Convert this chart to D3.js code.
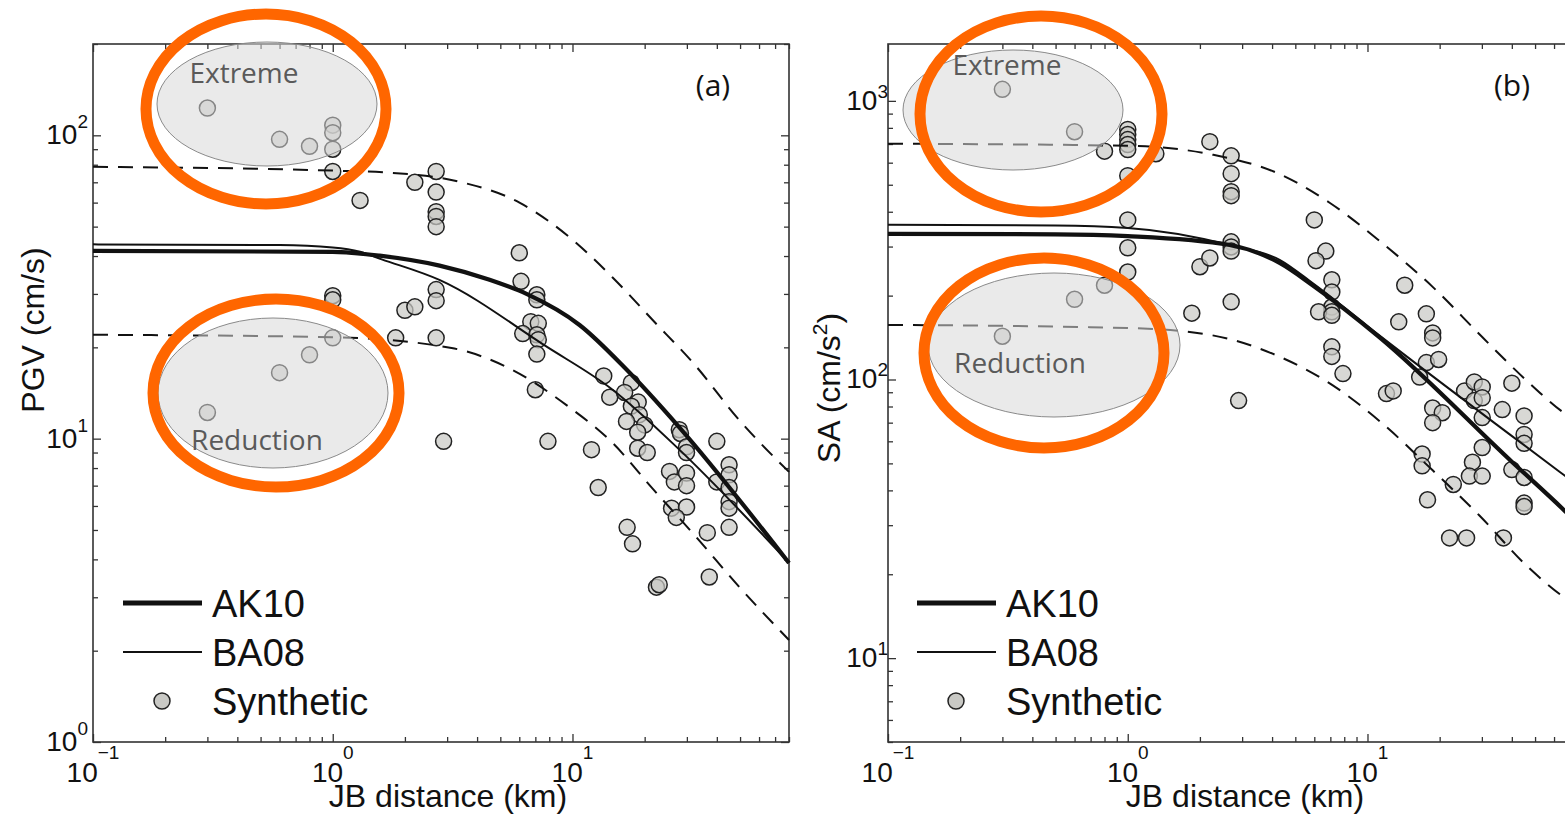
<!DOCTYPE html>
<html>
<head>
<meta charset="utf-8">
<script src="https://cdn.jsdelivr.net/npm/d3@7"></script>
<style>
  body { margin: 0; background: #fff; overflow: hidden; }
  svg { display: block; }
</style>
</head>
<body>
<div id="chart"></div>
<script>
// ---- data ----
const distRange = [0.1, 80];
const distMajor = [0.1, 1, 10];
const distMajorExp = ['\u22121', '0', '1'];

// panel (a) PGV
const pgvRange = [1, 200];
const pgvMajor = [1, 10, 100];
const pgvMajorExp = ['0', '1', '2'];
const pgvAk10 = [[0.1, 41.6], [1, 41.3], [1.57, 40.1], [2.79, 37.2], [4.51, 33.4], [6.43, 30.0], [10.7, 23.7], [16.8, 16.9], [27.9, 10.9], [80, 3.89]];
const pgvBa08 = [[0.1, 43.7], [0.6, 43.5], [1, 42.7], [1.3, 41.3], [1.6, 39], [2.8, 33.3], [7.8, 20.1], [14.7, 14.5], [27.9, 9.2], [80, 3.9]];
const pgvUpper = [[0.1, 78.7], [1, 76.5], [1.62, 75.5], [3.38, 70.3], [6.01, 60], [9.44, 47], [14.7, 34], [21.5, 24.7], [32.8, 17.3], [48.3, 11.8], [80, 7.77]];
const pgvLower = [[0.1, 22], [1, 21.6], [3.13, 19.9], [5.57, 16.9], [9.44, 12.9], [14.7, 9.68], [21.5, 6.87], [32.8, 4.74], [49.7, 3.24], [80, 2.17]];
const pgvSynthetic = [
  [0.3, 123], [0.6, 97], [0.8, 92], [1, 108], [1, 102], [1, 90], [1, 76], [1.3, 61],
  [2.2, 70], [2.7, 76], [2.7, 65], [2.7, 56], [2.7, 54], [2.7, 50], [6.0, 41], [6.1, 33],
  [2.7, 31], [2.7, 28.5], [2.0, 26.5], [2.2, 27.2], [1.83, 21.5], [2.7, 21.5], [2.9, 9.8],
  [7.1, 29.8], [7.1, 28.7], [6.7, 24.3], [7.2, 24], [6.2, 22.2], [7.1, 22], [7.2, 21.2], [7.1, 19],
  [7.0, 14.5], [7.9, 9.8], [13.5, 16.1], [14.3, 13.7], [17.6, 15.3], [16.5, 14.2], [18.8, 13.2],
  [17.6, 12.8], [19, 12], [16.8, 11.4], [20, 11.1], [18.7, 10.5], [18.7, 9.3], [20.5, 9.0],
  [12, 9.2], [12.8, 6.9], [27.9, 10.7], [28.2, 10.4], [29.9, 9.4], [29.9, 9.0], [40, 9.8],
  [25.4, 7.8], [26.6, 7.2], [29.9, 7.7], [29.9, 7.0], [25.9, 5.9], [29.9, 5.95], [27.1, 5.5],
  [40, 7.2], [45, 8.2], [45, 7.6], [45, 6.9], [45, 6.2], [45, 5.9], [45, 5.1], [36.5, 4.9],
  [16.9, 5.1], [17.8, 4.5], [37.2, 3.5], [22.4, 3.24], [23, 3.3],
  [1, 29.6], [1, 28.7], [1, 21.5], [0.8, 18.9], [0.6, 16.5], [0.3, 12.2]
];

// panel (b) SA
const saRange = [5, 1600];
const saMajor = [10, 100, 1000];
const saMajorExp = ['1', '2', '3'];
const saAk10 = [[0.1, 333], [0.5, 332], [1, 327], [2.66, 304], [4.3, 262], [5.9, 218], [11.2, 142], [40.2, 50.5], [66.2, 33.9], [80, 28.9]];
const saBa08 = [[0.1, 359], [0.5, 357], [1, 350], [2.66, 304], [4.3, 269], [5.9, 222], [11.2, 144], [40.2, 62.5], [66.2, 45.3], [80, 40.1]];
const saUpper = [[0.1, 702], [1, 690], [2.26, 641], [4.18, 552], [6.95, 431], [11.5, 309], [18.7, 215], [30.1, 142], [46, 99.3], [66.2, 75.7], [80, 68]];
const saLower = [[0.1, 157], [1, 153], [2.26, 144], [4.18, 122], [7.14, 95.5], [11.5, 69.7], [18.7, 47.2], [29.3, 32.5], [46, 21.5], [66.2, 16.5], [80, 14.8]];
const saSynthetic = [
  [0.3, 1100], [0.6, 775], [0.8, 660], [1, 790], [1, 757], [1, 726], [1, 697], [1, 669],
  [1, 539], [1, 374], [1, 297], [1, 243], [1.31, 646], [0.8, 218], [2.0, 254], [0.6, 194],
  [0.3, 143], [1.85, 173], [2.2, 714], [2.7, 635], [2.7, 548], [2.7, 472], [2.7, 457],
  [6.0, 374], [6.7, 289], [6.1, 267], [2.7, 312], [2.7, 299], [2.7, 289], [2.2, 273],
  [7.1, 228], [14.3, 218], [7.1, 206], [7.1, 182], [7.1, 175], [6.25, 175], [7.1, 170],
  [2.7, 190], [7.1, 131], [7.1, 121], [7.9, 105], [2.9, 84], [13.5, 161], [17.6, 172],
  [18.7, 147], [18.7, 141], [17.6, 115], [19.8, 118], [16.5, 102], [12, 89], [12.8, 91],
  [18.7, 79], [20.5, 76], [18.7, 70], [16.9, 54], [16.9, 49], [17.8, 37], [22.8, 42],
  [25.4, 91], [27.9, 98], [30.1, 94], [27.9, 84], [30.1, 86], [30.1, 73], [36.5, 78],
  [40, 97], [45, 74], [45, 63.5], [45, 59], [30.1, 57], [27.4, 50.5], [26.6, 45], [30.1, 45],
  [40, 47.5], [45, 44.5], [45, 36], [45, 35], [22, 27], [25.9, 27], [36.9, 27]
];

const legendNames = ['AK10', 'BA08', 'Synthetic'];

// ---- layout ----
const W = 1565, H = 816;
const sansFont = '"Liberation Sans", Arial, Helvetica, sans-serif';
const noteFont = '"Open Sans", "Noto Sans", sans-serif';

const panels = [
  {
    left: 93, top: 44, width: 696, height: 698,
    yRange: pgvRange, yMajor: pgvMajor, yExp: pgvMajorExp,
    ak10: pgvAk10, ba08: pgvBa08, upper: pgvUpper, lower: pgvLower, pts: pgvSynthetic,
    tag: '(a)', tagX: 713, tagY: 96,
    yTitle: 'PGV (cm/s)', yTitleX: 44, yTitleY: 330, ySup: null,
    xTitleX: 448, yLabelEnd: -5, supDy: -16,
    grey: [{cx: 267, cy: 104, rx: 110, ry: 62}, {cx: 273, cy: 393, rx: 115, ry: 75}],
    orange: [{cx: 266, cy: 109, rx: 120, ry: 95}, {cx: 276, cy: 393, rx: 123, ry: 94}],
    notes: [{t: 'Extreme', x: 244, y: 83}, {t: 'Reduction', x: 257, y: 450}],
    legX: 123
  },
  {
    left: 888, top: 44, width: 696, height: 698,
    yRange: saRange, yMajor: saMajor, yExp: saMajorExp,
    ak10: saAk10, ba08: saBa08, upper: saUpper, lower: saLower, pts: saSynthetic,
    tag: '(b)', tagX: 1512, tagY: 96,
    yTitle: 'SA (cm/s', yTitleX: 840, yTitleY: 388, ySup: '2',
    xTitleX: 1245, yLabelEnd: 0, supDy: -12,
    grey: [{cx: 1013, cy: 110, rx: 110, ry: 60}, {cx: 1054, cy: 345, rx: 126, ry: 72}],
    orange: [{cx: 1041, cy: 114, rx: 121, ry: 98}, {cx: 1044, cy: 353, rx: 120, ry: 95}],
    notes: [{t: 'Extreme', x: 1007, y: 75}, {t: 'Reduction', x: 1020, y: 373}],
    legX: 917
  }
];

const svg = d3.select('#chart').append('svg')
  .attr('width', W)
  .attr('height', H);

function drawPanel(p) {
  const x = d3.scaleLog().domain(distRange).range([p.left, p.left + p.width]);
  const y = d3.scaleLog().domain(p.yRange).range([p.top + p.height, p.top]);
  const bottom = p.top + p.height, right = p.left + p.width;

  const isMajor = v => Math.abs(Math.log10(v) - Math.round(Math.log10(v))) < 1e-9;
  const xMinor = x.ticks().filter(v => !isMajor(v));
  const yMinor = y.ticks().filter(v => !isMajor(v));

  // ticks on all four sides, pointing inward
  const axes = svg.append('g').attr('class', 'axes');
  function tickSet(axisFn, scale, vals, size, tr) {
    const g = axes.append('g').attr('transform', tr)
      .call(axisFn(scale).tickValues(vals).tickSize(size).tickFormat(''));
    g.select('.domain').remove();
    g.selectAll('line').attr('stroke', '#333').attr('stroke-width', 1.3);
  }
  tickSet(d3.axisBottom, x, xMinor, -5, `translate(0,${bottom})`);
  tickSet(d3.axisBottom, x, distMajor, -8, `translate(0,${bottom})`);
  tickSet(d3.axisTop, x, xMinor, -5, `translate(0,${p.top})`);
  tickSet(d3.axisTop, x, distMajor, -8, `translate(0,${p.top})`);
  tickSet(d3.axisLeft, y, yMinor, -5, `translate(${p.left},0)`);
  tickSet(d3.axisLeft, y, p.yMajor, -8, `translate(${p.left},0)`);
  tickSet(d3.axisRight, y, yMinor, -5, `translate(${right},0)`);
  tickSet(d3.axisRight, y, p.yMajor, -8, `translate(${right},0)`);

  axes.append('rect')
    .attr('x', p.left).attr('y', p.top)
    .attr('width', p.width).attr('height', p.height)
    .attr('fill', 'none').attr('stroke', '#333').attr('stroke-width', 1.6);

  // tick labels 10^n
  distMajor.forEach((v, i) => {
    const t = svg.append('text')
      .attr('x', x(v)).attr('y', bottom + 40)
      .attr('text-anchor', 'middle')
      .attr('font-family', sansFont).attr('font-size', 28).attr('fill', '#111')
      .text('10');
    t.append('tspan').attr('dy', -23).attr('font-size', 19).text(distMajorExp[i]);
  });
  p.yMajor.forEach((v, i) => {
    const t = svg.append('text')
      .attr('x', p.left + p.yLabelEnd).attr('y', y(v) + 9)
      .attr('text-anchor', 'end')
      .attr('font-family', sansFont).attr('font-size', 28).attr('fill', '#111')
      .text('10');
    t.append('tspan').attr('dy', p.supDy).attr('font-size', 19).text(p.yExp[i]);
  });

  // axis titles
  svg.append('text')
    .attr('x', p.xTitleX).attr('y', 807)
    .attr('text-anchor', 'middle')
    .attr('font-family', sansFont).attr('font-size', 32).attr('fill', '#111')
    .text('JB distance (km)');
  const yt = svg.append('text')
    .attr('transform', `translate(${p.yTitleX},${p.yTitleY}) rotate(-90)`)
    .attr('text-anchor', 'middle')
    .attr('font-family', sansFont).attr('font-size', 32).attr('fill', '#111')
    .text(p.yTitle);
  if (p.ySup) {
    yt.append('tspan').attr('dy', -13).attr('font-size', 21).text(p.ySup);
    yt.append('tspan').attr('dy', 13).text(')');
  }

  // synthetic points
  svg.append('g').selectAll('circle')
    .data(p.pts).enter().append('circle')
    .attr('cx', d => x(d[0])).attr('cy', d => y(d[1]))
    .attr('r', 8)
    .attr('fill', '#c9c9c5').attr('fill-opacity', 0.72)
    .attr('stroke', '#222').attr('stroke-width', 1.5);

  // model curves
  const line = d3.line()
    .x(d => x(d[0])).y(d => y(d[1]))
    .curve(d3.curveMonotoneX);
  const curves = svg.append('g').attr('fill', 'none').attr('stroke', '#111');
  curves.append('path').attr('d', line(p.upper)).attr('stroke-width', 2).attr('stroke-dasharray', '15,10');
  curves.append('path').attr('d', line(p.lower)).attr('stroke-width', 2).attr('stroke-dasharray', '15,10');
  curves.append('path').attr('d', line(p.ba08)).attr('stroke-width', 2);
  curves.append('path').attr('d', line(p.ak10)).attr('stroke-width', 4.2);

  // legend
  const leg = svg.append('g');
  const rowY = [603, 652, 701];
  leg.append('line').attr('x1', p.legX).attr('x2', p.legX + 79)
    .attr('y1', rowY[0]).attr('y2', rowY[0]).attr('stroke', '#111').attr('stroke-width', 5);
  leg.append('line').attr('x1', p.legX).attr('x2', p.legX + 79)
    .attr('y1', rowY[1]).attr('y2', rowY[1]).attr('stroke', '#111').attr('stroke-width', 2);
  leg.append('circle').attr('cx', p.legX + 39).attr('cy', rowY[2]).attr('r', 8)
    .attr('fill', '#c9c9c5').attr('stroke', '#222').attr('stroke-width', 1.5);
  leg.selectAll('text').data(legendNames).enter().append('text')
    .attr('x', p.legX + 89).attr('y', (d, i) => rowY[i] + 14)
    .attr('font-family', sansFont).attr('font-size', 38).attr('fill', '#111')
    .text(d => d);

  // grey highlight ellipses (translucent) and orange rings
  svg.append('g').selectAll('ellipse')
    .data(p.grey).enter().append('ellipse')
    .attr('cx', d => d.cx).attr('cy', d => d.cy).attr('rx', d => d.rx).attr('ry', d => d.ry)
    .attr('fill', '#d8d8d8').attr('fill-opacity', 0.55)
    .attr('stroke', '#8a8a8a').attr('stroke-width', 1);
  svg.append('g').selectAll('text')
    .data(p.notes).enter().append('text')
    .attr('x', d => d.x).attr('y', d => d.y)
    .attr('text-anchor', 'middle')
    .attr('font-family', noteFont).attr('font-size', 28).attr('fill', '#5a5a5a')
    .text(d => d.t);
  svg.append('g').selectAll('ellipse')
    .data(p.orange).enter().append('ellipse')
    .attr('cx', d => d.cx).attr('cy', d => d.cy).attr('rx', d => d.rx).attr('ry', d => d.ry)
    .attr('fill', 'none').attr('stroke', '#ff6600').attr('stroke-width', 11);

  // panel tag
  svg.append('text')
    .attr('x', p.tagX).attr('y', p.tagY)
    .attr('text-anchor', 'middle')
    .attr('font-family', noteFont).attr('font-size', 30).attr('fill', '#111')
    .text(p.tag);
}

panels.forEach(drawPanel);
</script>
</body>
</html>
